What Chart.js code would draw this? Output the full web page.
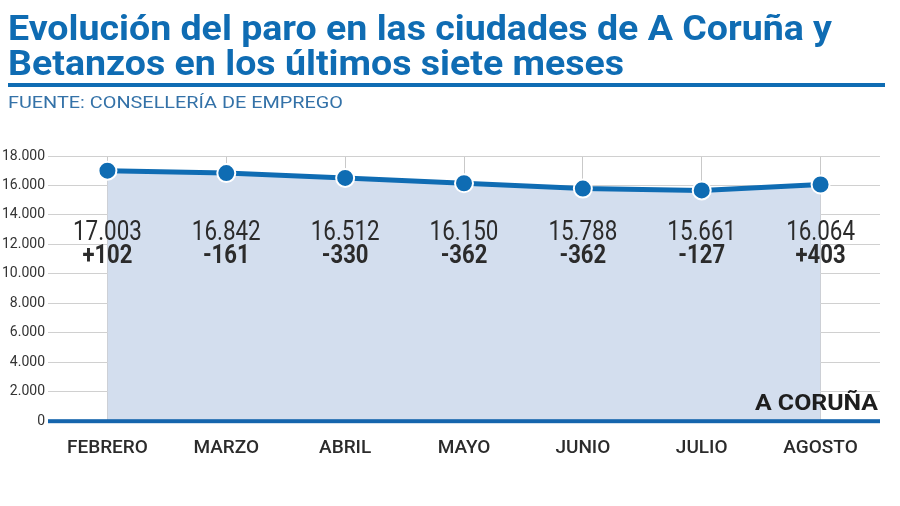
<!DOCTYPE html>
<html>
<head>
<meta charset="utf-8">
<script src="https://cdn.jsdelivr.net/npm/chart.js@4.4.1/dist/chart.umd.min.js"></script>
<style>
  html, body { margin: 0; padding: 0; background: #fff; }
  #wrap { width: 900px; height: 506px; }
</style>
</head>
<body>
<div id="wrap"><canvas id="chart"></canvas></div>
<script>
// --- DATOS ---
const meses = ['FEBRERO', 'MARZO', 'ABRIL', 'MAYO', 'JUNIO', 'JULIO', 'AGOSTO'];
const parados = [17003, 16842, 16512, 16150, 15788, 15661, 16064];
const variacion = [102, -161, -330, -362, -362, -127, 403];
const yMax = 18000;
const yPaso = 2000;

const titulo1 = 'Evolución del paro en las ciudades de A Coruña y';
const titulo2 = 'Betanzos en los últimos siete meses';
const fuente = 'FUENTE: CONSELLERÍA DE EMPREGO';
const ciudad = 'A CORUÑA';

const AZUL = '#0f6cb3';
const TEXTO = '#2b2b2b';

// 16842 -> "16.842"
function puntos(n) {
    return String(n).replace(/\B(?=(\d{3})+(?!\d))/g, '.');
}
function signo(n) {
    return (n > 0 ? '+' : '') + n;
}

// texto comprimido en horizontal para parecerse a una condensada
function textoAncho(ctx, txt, x, y, escala, align) {
    const w = ctx.measureText(txt).width * escala;
    let x0 = x;
    if (align === 'center') x0 = x - w / 2;
    if (align === 'right') x0 = x - w;
    ctx.save();
    ctx.translate(x0, y);
    ctx.scale(escala, 1);
    ctx.textAlign = 'left';
    ctx.fillText(txt, 0, 0);
    ctx.restore();
}

const textos = {
    id: 'textos',
    beforeDraw(chart) {
        const ctx = chart.ctx;
        ctx.save();
        ctx.textBaseline = 'alphabetic';
        // titulo
        ctx.fillStyle = AZUL;
        ctx.font = 'bold 35px Roboto';
        const esc = 824 / ctx.measureText(titulo1).width;
        textoAncho(ctx, titulo1, 8, 40, esc, 'left');
        textoAncho(ctx, titulo2, 8, 75, esc, 'left');
        // filete
        ctx.fillRect(8, 83, 877, 4);
        // fuente
        ctx.fillStyle = '#3472a8';
        ctx.font = '16px Roboto';
        const escF = 335 / ctx.measureText(fuente).width;
        textoAncho(ctx, fuente, 8, 108, escF, 'left');
        ctx.restore();
    },
    afterDatasetsDraw(chart) {
        const ctx = chart.ctx;
        const x = chart.scales.x;
        const area = chart.chartArea;
        ctx.save();
        // linea del cero
        ctx.fillStyle = '#1565ad';
        ctx.fillRect(area.left, area.bottom - 2, area.right - area.left, 4);

        ctx.fillStyle = TEXTO;
        ctx.textBaseline = 'alphabetic';
        parados.forEach((v, i) => {
            const px = x.getPixelForValue(i);
            ctx.font = '28px Roboto';
            textoAncho(ctx, puntos(v), px, area.top + 84, 0.8, 'center');
            ctx.font = 'bold 26px Roboto';
            textoAncho(ctx, signo(variacion[i]), px, area.top + 107, 0.85, 'center');
        });
        ctx.font = 'bold 22px Roboto';
        ctx.fillStyle = '#1e1e1e';
        const escC = 123 / ctx.measureText(ciudad).width;
        textoAncho(ctx, ciudad, area.right - 2, area.bottom - 11, escC, 'right');
        ctx.restore();
    }
};

const ctx = document.getElementById('chart');
new Chart(ctx, {
    type: 'line',
    data: {
        labels: meses,
        datasets: [{
            data: parados,
            borderColor: AZUL,
            borderWidth: 5,
            backgroundColor: '#d3deee',
            fill: 'origin',
            tension: 0,
            pointRadius: 9,
            pointBackgroundColor: AZUL,
            pointBorderColor: '#fff',
            pointBorderWidth: 2
        }]
    },
    options: {
        responsive: true,
        maintainAspectRatio: false,
        animation: false,
        layout: { padding: { top: 156, right: 20, bottom: 30, left: 0 } },
        plugins: { legend: { display: false }, tooltip: { enabled: false } },
        scales: {
            x: {
                offset: true,
                grid: { display: true, offset: false, color: '#c9c9c9', lineWidth: 1, drawTicks: false },
                border: { display: false },
                ticks: { color: TEXTO, font: { family: 'Roboto', size: 19, weight: 500 }, padding: 16 }
            },
            y: {
                min: 0,
                max: yMax,
                afterFit: (scale) => { scale.width = 48; },
                grid: { color: '#d0d0d0', lineWidth: 1, drawTicks: false },
                border: { display: false },
                ticks: {
                    stepSize: yPaso,
                    color: '#333',
                    padding: 3,
                    font: { family: 'Roboto', size: 14 },
                    callback: (v) => puntos(v)
                }
            }
        }
    },
    plugins: [textos]
});
</script>
</body>
</html>
